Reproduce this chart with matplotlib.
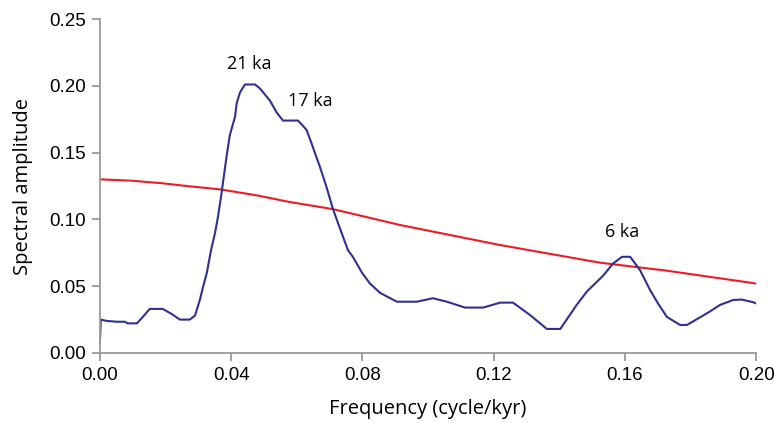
import matplotlib
matplotlib.use("Agg")
import matplotlib.pyplot as plt

# spectral amplitude of the record (cycle/kyr vs amplitude)
freq = [0.0, 0.0003, 0.0021, 0.0052, 0.0076, 0.0085, 0.0113, 0.0131, 0.0152,
        0.0192, 0.0220, 0.0244, 0.0274, 0.0290, 0.0305, 0.0314, 0.0326, 0.0338,
        0.0351, 0.0360, 0.0371, 0.0386, 0.0396, 0.0412, 0.0417, 0.0427, 0.0442,
        0.0473, 0.0488, 0.0518, 0.0539, 0.0558, 0.0604, 0.0630, 0.0645, 0.0671,
        0.0691, 0.0710, 0.0732, 0.0756, 0.0771, 0.0799, 0.0823, 0.0854, 0.0905,
        0.0966, 0.1015, 0.1057, 0.1113, 0.1168, 0.1220, 0.1259, 0.1311, 0.1362,
        0.1403, 0.1453, 0.1484, 0.1534, 0.1564, 0.1591, 0.1616, 0.1646, 0.1677,
        0.1701, 0.1728, 0.1768, 0.1789, 0.1850, 0.1890, 0.1930, 0.1956, 0.1973,
        0.1991, 0.2000]
amp = [0.0075, 0.025, 0.024, 0.0234, 0.0234, 0.0222, 0.0222, 0.027, 0.033,
       0.033, 0.029, 0.025, 0.025, 0.028, 0.040, 0.049, 0.060, 0.076,
       0.090, 0.102, 0.120, 0.147, 0.163, 0.177, 0.187, 0.195, 0.201,
       0.201, 0.198, 0.189, 0.180, 0.174, 0.174, 0.167, 0.157, 0.139,
       0.124, 0.108, 0.093, 0.077, 0.072, 0.060, 0.052, 0.045, 0.0384,
       0.0384, 0.041, 0.0384, 0.034, 0.034, 0.0377, 0.0377, 0.0284, 0.018,
       0.018, 0.036, 0.046, 0.058, 0.067, 0.072, 0.072, 0.062, 0.047,
       0.037, 0.027, 0.021, 0.021, 0.0297, 0.036, 0.0397, 0.040, 0.039,
       0.038, 0.037]

# confidence level
conf_freq = [0.0, 0.0097, 0.0192, 0.0264, 0.0366, 0.0478, 0.0579, 0.0710,
             0.0915, 0.1220, 0.1524, 0.1728, 0.2000]
conf_amp = [0.130, 0.129, 0.127, 0.125, 0.1225, 0.118, 0.113, 0.1077,
            0.0958, 0.0808, 0.0676, 0.0616, 0.052]

peak_labels = ["21 ka", "17 ka", "6 ka"]
peak_pos = [(0.0455, 0.2165), (0.0640, 0.1890), (0.1592, 0.0905)]

fig = plt.figure(figsize=(7.74, 4.23), dpi=100)
ax = fig.add_axes([0.129, 0.1655, 0.848, 0.7895])

ax.plot(conf_freq, conf_amp, color="#ed1c24", lw=1.5)
ax.plot(freq, amp, color="#2e3192", lw=1.5)

for lab, (x, y) in zip(peak_labels, peak_pos):
    ax.text(x, y, lab, ha="center", va="center", fontsize=13,
            family="Open Sans")

ax.set_xlim(0, 0.2)
ax.set_ylim(0, 0.25)
ax.set_xticks([0.0, 0.04, 0.08, 0.12, 0.16, 0.20])
ax.set_yticks([0.0, 0.05, 0.10, 0.15, 0.20, 0.25])
ax.set_xticklabels(["0.00", "0.04", "0.08", "0.12", "0.16", "0.20"])
ax.set_yticklabels(["0.00", "0.05", "0.10", "0.15", "0.20", "0.25"])

for s in ["top", "right"]:
    ax.spines[s].set_visible(False)
for s in ["left", "bottom"]:
    ax.spines[s].set_color("#999999")
    ax.spines[s].set_linewidth(1.3)
ax.tick_params(direction="out", length=6, width=1.3, color="#999999",
               labelsize=13.5, pad=4)
for t in ax.get_xticklabels() + ax.get_yticklabels():
    t.set_family("Liberation Sans")

ax.set_xlabel("Frequency (cycle/kyr)", fontsize=14.5, family="Open Sans",
              labelpad=11)
ax.set_ylabel("Spectral amplitude", fontsize=14.5, family="Open Sans",
              labelpad=12)

fig.savefig("out.png", dpi=100)
